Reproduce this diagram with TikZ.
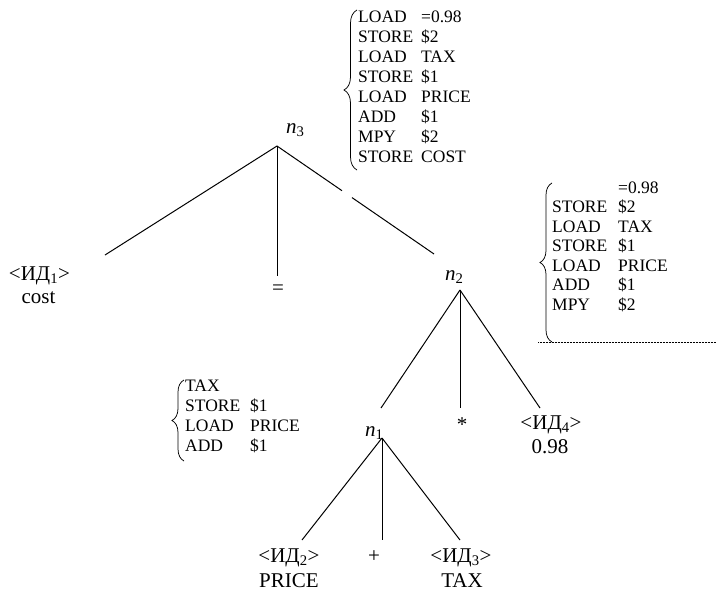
\documentclass[tikz,border=0pt]{standalone}
\usepackage{fontspec}
\setmainfont{Liberation Serif}
\usetikzlibrary{decorations.pathreplacing}
\begin{document}
\begin{tikzpicture}[x=1pt,y=-1pt,
  edge/.style={line width=1pt},
  bracestyle/.style={decorate,decoration={brace,amplitude=#1},line width=0.75pt},
  lbl/.style={inner sep=0pt,anchor=base,font=\fontsize{21}{24}\selectfont},
  code/.style={inner sep=0pt,anchor=base west,font=\fontsize{17.5}{20}\selectfont}]
\useasboundingbox (0,0) rectangle (717,592);

% ---- tree labels
\node[lbl] (id1) at (39.5,280) {<ИД\textsubscript{1}>};
\node[lbl] (cost) at (38.5,303) {cost};
\node[lbl] (eq) at (278,294.5) {=};
\node[lbl,anchor=base west] (n3l) at (286,133) {\textit{n}\textsubscript{3}};
\node[lbl,anchor=base west] (n2l) at (445,280) {\textit{n}\textsubscript{2}};
\node[lbl,anchor=base west] (n1l) at (365,436) {\textit{n}\textsubscript{1}};
\node[lbl] (star) at (462,431) {*};
\node[lbl] (id4) at (551,429) {<ИД\textsubscript{4}>};
\node[lbl] (v098) at (550,453) {0.98};
\node[lbl] (id2) at (289,562) {<ИД\textsubscript{2}>};
\node[lbl] (price) at (289,587) {PRICE};
\node[lbl] (plus) at (374,562) {+};
\node[lbl] (id3) at (461,562) {<ИД\textsubscript{3}>};
\node[lbl] (tax) at (462,587) {TAX};

% ---- tree edges
\coordinate (n3) at (277,146);
\coordinate (e31) at (105,255);
\coordinate (e32) at (277,276);
\coordinate (g1) at (342,190.7);
\coordinate (g2) at (352,197.6);
\coordinate (e33) at (434,254);
\draw[edge] (n3) -- (e31);
\draw[edge] (n3) -- (e32);
\draw[edge] (n3) -- (g1);
\draw[edge] (g2) -- (e33);

\coordinate (n2) at (460,290);
\coordinate (e21) at (381,408);
\coordinate (e22) at (460,408);
\coordinate (e23) at (540,408);
\draw[edge] (n2) -- (e21);
\draw[edge] (n2) -- (e22);
\draw[edge] (n2) -- (e23);

\coordinate (n1) at (382,438);
\coordinate (e11) at (302,540);
\coordinate (e12) at (382,540);
\coordinate (e13) at (460,540);
\draw[edge] (n1) -- (e11);
\draw[edge] (n1) -- (e12);
\draw[edge] (n1) -- (e13);

% ---- code block 1
\foreach \a/\b [count=\i from 0] in {LOAD/{=0.98},STORE/\$2,LOAD/TAX,STORE/\$1,LOAD/PRICE,ADD/\$1,MPY/\$2,STORE/COST}{
  \node[code] (ba-\i) at (358,22+20*\i) {\a};
  \node[code] (bb-\i) at (421,22+20*\i) {\b};
}
\coordinate (br1s) at (357,170);
\coordinate (br1e) at (357,10);
\draw[bracestyle=13] (br1s) -- (br1e);

% ---- code block 2
\node[code] (ca-0) at (618,193) {=0.98};
\foreach \a/\b [count=\i] in {STORE/\$2,LOAD/TAX,STORE/\$1,LOAD/PRICE,ADD/\$1,MPY/\$2}{
  \node[code] (ca-\i) at (552,193+19.5*\i) {\a};
  \node[code] (cb-\i) at (618,193+19.5*\i) {\b};
}
\coordinate (br2s) at (552,342);
\coordinate (br2e) at (552,183);
\draw[bracestyle=12] (br2s) -- (br2e);
\coordinate (d1) at (538,342);
\coordinate (d2) at (716,342);
\draw[densely dotted,line width=0.5pt] (d1) -- (d2);

% ---- code block 3
\node[code] (da-0) at (185,391) {TAX};
\foreach \a/\b [count=\i] in {STORE/\$1,LOAD/PRICE,ADD/\$1}{
  \node[code] (da-\i) at (185,391+20*\i) {\a};
  \node[code] (db-\i) at (250,391+20*\i) {\b};
}
\coordinate (br3s) at (184,461);
\coordinate (br3e) at (184,380);
\draw[bracestyle=12] (br3s) -- (br3e);
\end{tikzpicture}
\end{document}
